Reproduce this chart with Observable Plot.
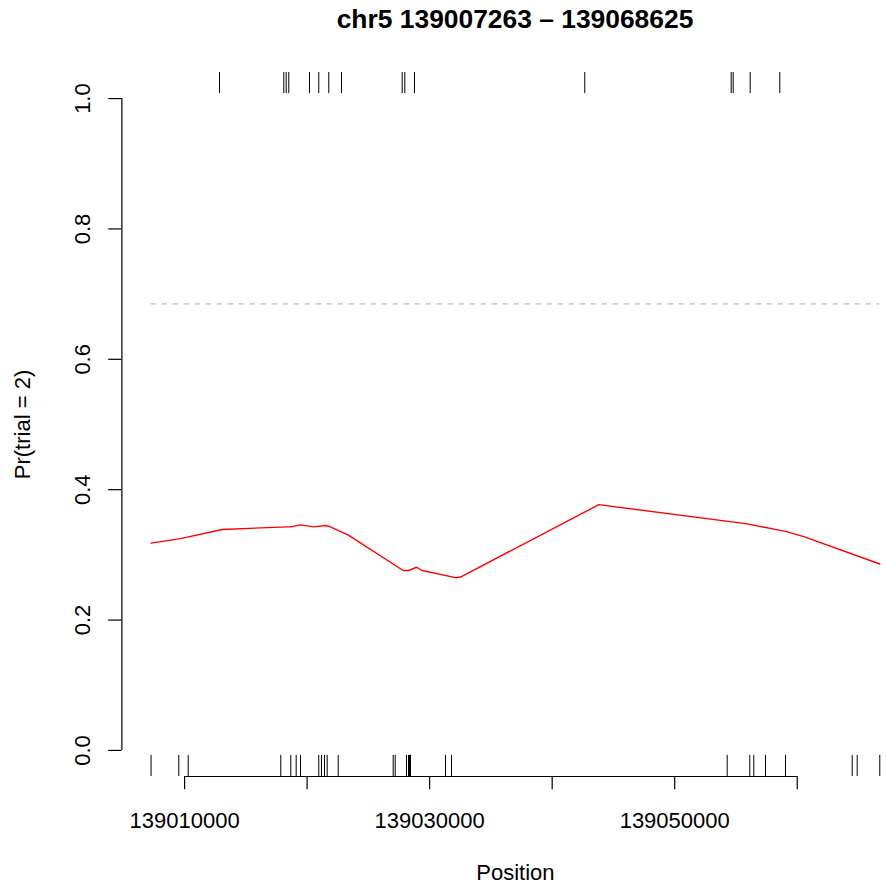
<!DOCTYPE html>
<html>
<head>
<meta charset="utf-8">
<script src="https://cdn.jsdelivr.net/npm/d3@7"></script>
<script src="https://cdn.jsdelivr.net/npm/@observablehq/plot@0.6"></script>
<style>
  html, body { margin: 0; padding: 0; background: #fff; }
  #wrap { width: 886px; height: 888px; overflow: hidden; position: relative; background: #fff;
          font-family: "Liberation Sans", Arial, Helvetica, sans-serif; }
  #title { position: relative; height: 50px; }
  #title span { position: absolute; left: 515px; top: 6px; transform: translateX(-50%);
                font-weight: bold; font-size: 26.4px; line-height: 26.4px; white-space: nowrap; color: #000; }
</style>
</head>
<body>
<div id="wrap">
  <div id="title"><span id="titletext"></span></div>
  <div id="chart"></div>
</div>
<script>
// ---- data ----
const titleText = "chr5 139007263 \u2013 139068625";
const xLabel = "Position";
const yLabel = "Pr(trial = 2)";
const xTicks = [139010000, 139020000, 139030000, 139040000, 139050000, 139060000];
const xTickLabels = [139010000, 139030000, 139050000];
const yTicks = [0, 0.2, 0.4, 0.6, 0.8, 1.0];

// marker positions (bottom rug)
const bottomRug = [139007263, 139009527, 139010294, 139017851, 139018667, 139019108, 139019459,
  139020952, 139021173, 139021417, 139021638, 139022536, 139027024, 139027188, 139028110,
  139028273, 139028355, 139028436, 139031293, 139031782, 139054283, 139056128, 139056454,
  139057409, 139059041, 139064485, 139064893, 139066737];
// marker positions (top rug)
const topRug = [139012848, 139018096, 139018292, 139018504, 139020193, 139020952, 139021769,
  139022805, 139027759, 139027971, 139028763, 139042661, 139054609, 139054773, 139056160, 139058576];

// probability curve
const linePos = [139007263, 139009665, 139013069, 139018373, 139018643, 139019459, 139020544,
  139021499, 139021769, 139023401, 139027841, 139028298, 139028926, 139029391, 139032109,
  139032517, 139043804, 139055777, 139059041, 139060535, 139066737];
const lineProb = [0.318, 0.325, 0.339, 0.343, 0.343, 0.346, 0.343, 0.345, 0.344, 0.330,
  0.276, 0.276, 0.281, 0.276, 0.265, 0.266, 0.377, 0.348, 0.336, 0.328, 0.286];
const threshold = 0.685;

// ---- layout ----
const W = 886, H = 838;
const mTop = 22, mBottom = 112, mLeft = 121.4;
const frameH = H - mTop - mBottom;
const rugLen = 0.03 * frameH;
const tickLen = 13.2;

document.getElementById("titletext").textContent = titleText;

const allPos = bottomRug.concat(topRug, linePos);
const [pMin, pMax] = d3.extent(allPos);
const pad = (pMax - pMin) * 0.04;
const xDomain = [pMin - pad, pMax + pad];
const pxPerUnit = 122.53 / 10000;
const xRange = [mLeft, mLeft + (xDomain[1] - xDomain[0]) * pxPerUnit];
const yDomain = [-0.04, 1.04];

const lineData = linePos.map((p, i) => ({pos: p, prob: lineProb[i]}));

const chart = Plot.plot({
  width: W,
  height: H,
  marginTop: mTop,
  marginBottom: mBottom,
  marginLeft: mLeft,
  marginRight: 0,
  style: {fontFamily: "'Liberation Sans', Arial, Helvetica, sans-serif", fontSize: "22px", color: "#000", background: "#fff"},
  x: {type: "linear", domain: xDomain, range: xRange, axis: null},
  y: {type: "linear", domain: yDomain, range: [H - mBottom, mTop], axis: null},
  marks: [
    // y axis line and ticks
    Plot.ruleX([xDomain[0]], {x: d => d, y1: yTicks[0], y2: yTicks[yTicks.length - 1], stroke: "#000", strokeWidth: 1.2}),
    Plot.ruleY(yTicks, {y: d => d, x1: xDomain[0], x2: xDomain[0], insetLeft: -tickLen, stroke: "#000", strokeWidth: 1.2}),
    Plot.text(yTicks, {x: xDomain[0], y: d => d, dx: -31.5, rotate: -90, textAnchor: "middle", lineAnchor: "bottom",
      text: d => d.toFixed(1), fontSize: 22, fill: "#000"}),
    // x axis line and ticks
    Plot.ruleY([yDomain[0]], {y: d => d, x1: xTicks[0], x2: xTicks[xTicks.length - 1], stroke: "#000", strokeWidth: 1.2}),
    Plot.ruleX(xTicks, {x: d => d, y1: yDomain[0], y2: yDomain[0], insetBottom: -tickLen, stroke: "#000", strokeWidth: 1.2}),
    Plot.text(xTickLabels, {x: d => d, frameAnchor: "bottom", dy: 51, lineAnchor: "bottom", textAnchor: "middle",
      text: d => String(d), fontSize: 22, fill: "#000"}),
    // axis titles
    Plot.text([xLabel], {x: (xDomain[0] + xDomain[1]) / 2, frameAnchor: "bottom", dy: 103, lineAnchor: "bottom",
      textAnchor: "middle", text: d => d, fontSize: 22, fill: "#000"}),
    Plot.text([yLabel], {frameAnchor: "left", dx: -91.9, rotate: -90, lineAnchor: "bottom", textAnchor: "middle",
      text: d => d, fontSize: 22, fill: "#000"}),
    // rugs
    Plot.ruleX(bottomRug, {x: d => d, insetTop: frameH - rugLen, stroke: "#000", strokeWidth: 1}),
    Plot.ruleX(topRug, {x: d => d, insetBottom: frameH - rugLen, stroke: "#000", strokeWidth: 1}),
    // threshold
    Plot.ruleY([threshold], {y: d => d, x1: pMin, x2: d3.max(bottomRug), stroke: "#bebebe", strokeWidth: 1.2, strokeDasharray: "5.5,5.5"}),
    // probability curve
    Plot.line(lineData, {x: "pos", y: "prob", stroke: "#ff0000", strokeWidth: 1.4})
  ]
});
document.getElementById("chart").appendChild(chart);
</script>
</body>
</html>
